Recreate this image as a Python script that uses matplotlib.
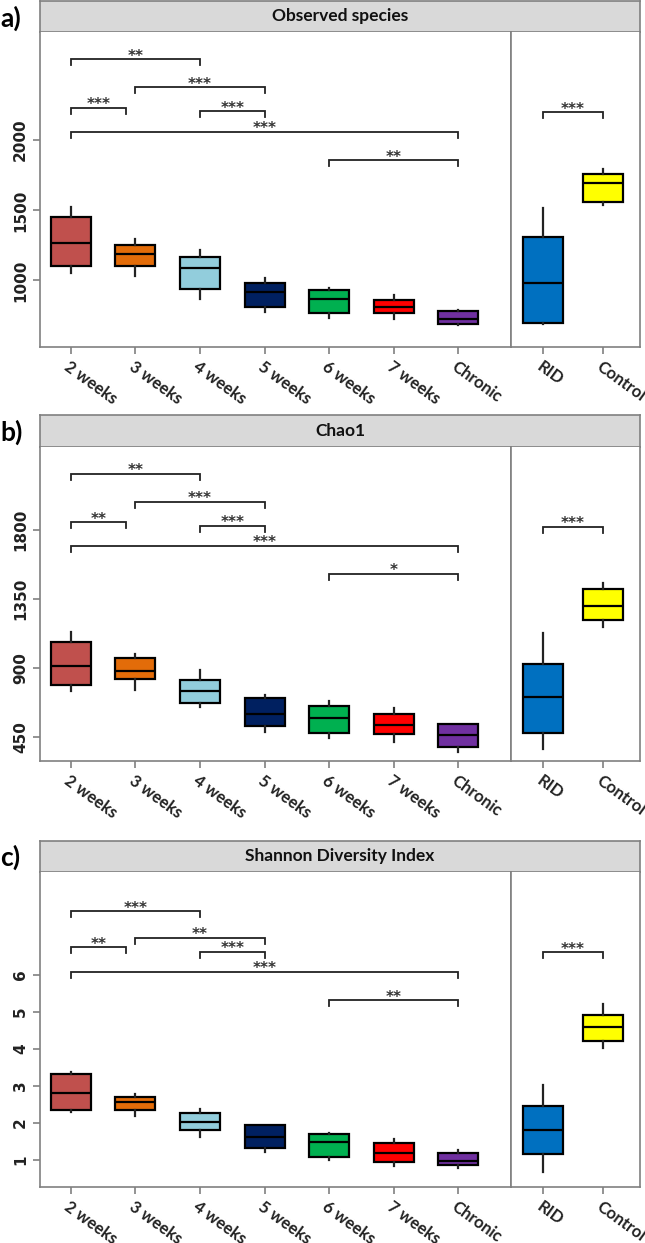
import matplotlib
matplotlib.use("Agg")
from matplotlib import pyplot as plt

# groups and colours
groups_left = ["2 weeks", "3 weeks", "4 weeks", "5 weeks", "6 weeks", "7 weeks", "Chronic"]
groups_right = ["RID", "Control"]
colors_left = ["#c0504d", "#e36c09", "#92cddc", "#002060", "#00b050", "#ff0000", "#7030a0"]
colors_right = ["#0070c0", "#ffff00"]

# box stats, order: 2w..Chronic, RID, Control
obs_lo = [1055, 1032, 868, 777, 734, 723, 683, 690, 1538]
obs_q1 = [1103, 1105, 939, 809, 766, 766, 688, 699, 1561]
obs_med = [1269, 1189, 1091, 920, 868, 811, 725, 984, 1692]
obs_q3 = [1454, 1253, 1169, 984, 932, 861, 782, 1308, 1757]
obs_hi = [1521, 1293, 1217, 1020, 948, 896, 789, 1514, 1794]
obs_ticks = [1000, 1500, 2000]

chao_lo = [751, 755, 643, 480, 443, 419, 354, 369, 1167]
chao_q1 = [786, 827, 671, 523, 477, 467, 386, 473, 1211]
chao_med = [913, 881, 751, 601, 575, 527, 464, 708, 1304]
chao_q3 = [1068, 962, 820, 705, 651, 599, 534, 923, 1413]
chao_hi = [1135, 990, 885, 721, 682, 638, 534, 1124, 1454]
chao_ticks = [450, 900, 1350, 1800]

sh_lo = [2.29, 2.19, 1.63, 1.22, 1.00, 0.85, 0.78, 0.67, 4.02]
sh_q1 = [2.35, 2.35, 1.81, 1.33, 1.09, 0.95, 0.86, 1.15, 4.22]
sh_med = [2.82, 2.58, 2.04, 1.63, 1.49, 1.20, 0.98, 1.81, 4.59]
sh_q3 = [3.32, 2.69, 2.26, 1.95, 1.70, 1.47, 1.20, 2.46, 4.92]
sh_hi = [3.37, 2.78, 2.37, 1.95, 1.72, 1.57, 1.27, 3.03, 5.21]
sh_ticks = [1, 2, 3, 4, 5, 6]

# significance brackets (x1, x2, y, label); the *_right one is RID vs Control
obs_sig = [(1, 3, 2576, "**"), (2, 4, 2377, "***"), (1, 1.85, 2231, "***"),
           (3, 4, 2205, "***"), (1, 7, 2060, "***"), (5, 7, 1856, "**")]
obs_sig_right = (1, 2, 2198, "***")
chao_sig = [(1, 3, 2163, "**"), (2, 4, 1981, "***"), (1, 1.85, 1847, "**"),
            (3, 4, 1823, "***"), (1, 7, 1695, "***"), (5, 7, 1510, "*")]
chao_sig_right = (1, 2, 1818, "***")
sh_sig = [(1, 3, 7.72, "***"), (2, 4, 7.00, "**"), (1, 1.85, 6.75, "**"),
          (3, 4, 6.63, "***"), (1, 7, 6.09, "***"), (5, 7, 5.32, "**")]
sh_sig_right = (1, 2, 6.61, "***")

W, H = 645, 1243
GRAY = "#808080"
fig = plt.figure(figsize=(W / 100, H / 100), dpi=100)


def rect(x0, y0, x1, y1):
    return [x0 / W, 1 - y1 / H, (x1 - x0) / W, (y1 - y0) / H]


def draw_brackets(ax, sig, leg):
    for x1, x2, y, lab in sig:
        ax.plot([x1, x1, x2, x2], [y - leg, y, y, y - leg], color="#222222", lw=1.3,
                solid_joinstyle="miter", clip_on=False)
        ax.annotate(lab, xy=((x1 + x2) / 2, y), xytext=(0, -1), textcoords="offset points",
                    ha="center", va="baseline", fontsize=11, fontweight="bold",
                    color="#333333")


def style_axis(ax):
    for s in ax.spines.values():
        s.set_color(GRAY)
        s.set_linewidth(1.2)
    ax.spines["top"].set_visible(False)
    ax.tick_params(axis="both", direction="out", length=5, width=1.2, color=GRAY)
    ax.set_xticklabels(ax.get_xticklabels(), rotation=-36, ha="left", va="top",
                       rotation_mode="anchor", fontsize=12, fontweight="bold",
                       family="Lato", color="#222222")


panels = [
    ("a)", "Observed species", 1, 32, 347, obs_lo, obs_q1, obs_med, obs_q3, obs_hi,
     (526, 2771), obs_ticks, obs_sig, obs_sig_right),
    ("b)", "Chao1", 415, 446.7, 760.7, chao_lo, chao_q1, chao_med, chao_q3, chao_hi,
     (295, 2339), chao_ticks, chao_sig, chao_sig_right),
    ("c)", "Shannon Diversity Index", 840.7, 871.7, 1186.7, sh_lo, sh_q1, sh_med, sh_q3, sh_hi,
     (0.28, 8.79), sh_ticks, sh_sig, sh_sig_right),
]

for tag, title, top, hb, bottom, lo, q1, med, q3, hi, ylim, yticks, sig, sig_r in panels:
    stats = [dict(whislo=lo[i], q1=q1[i], med=med[i], q3=q3[i], whishi=hi[i], fliers=[])
             for i in range(len(lo))]

    # header strip
    hax = fig.add_axes(rect(40, top, 640, hb))
    hax.set_facecolor("#d9d9d9")
    hax.set_xticks([])
    hax.set_yticks([])
    for s in hax.spines.values():
        s.set_color(GRAY)
        s.set_linewidth(1.2)
    hax.text(0.5, 0.5, title, ha="center", va="center", fontsize=12.5, fontweight="bold",
             family="Lato", transform=hax.transAxes, color="#111111")
    fig.text(0.0, 1 - (top + 17) / H, tag, ha="left", va="center", fontsize=19,
             fontweight="bold", family="Lato")

    boxkw = dict(patch_artist=True, showcaps=False, showfliers=False, manage_ticks=False,
                 boxprops=dict(linewidth=1.6, edgecolor="black"),
                 medianprops=dict(color="black", linewidth=1.6),
                 whiskerprops=dict(color="#222222", linewidth=1.6))

    # left panel
    ax = fig.add_axes(rect(40, hb, 511, bottom))
    pos = list(range(1, len(groups_left) + 1))
    bp = ax.bxp(stats[:7], positions=pos, widths=0.62, **boxkw)
    for patch, c in zip(bp["boxes"], colors_left):
        patch.set_facecolor(c)
    ax.set_xlim(0.52, 7.82)
    ax.set_ylim(*ylim)
    ax.set_xticks(pos, groups_left)
    ax.set_yticks(yticks)
    ax.set_yticklabels([str(t) for t in yticks], rotation=90, va="center", fontsize=11,
                       fontweight="bold", color="#222222")
    style_axis(ax)
    leg = (ylim[1] - ylim[0]) * 0.019
    draw_brackets(ax, sig, leg)

    # right panel
    ax2 = fig.add_axes(rect(511, hb, 640, bottom))
    pos2 = [1, 2]
    bp2 = ax2.bxp(stats[7:], positions=pos2, widths=0.68, **boxkw)
    for patch, c in zip(bp2["boxes"], colors_right):
        patch.set_facecolor(c)
    ax2.set_xlim(0.467, 2.617)
    ax2.set_ylim(*ylim)
    ax2.set_xticks(pos2, groups_right)
    ax2.set_yticks([])
    style_axis(ax2)
    draw_brackets(ax2, [sig_r], leg)

fig.savefig("out.png", dpi=100)
